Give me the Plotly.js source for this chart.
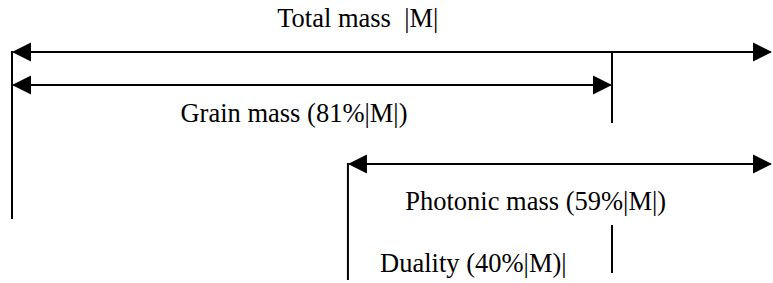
<!DOCTYPE html>
<html><head><meta charset="utf-8">
<script src="https://cdn.plot.ly/plotly-3.0.1.min.js"></script>
<style>html,body{margin:0;padding:0;background:#fff}#chart{width:773px;height:283px}</style>
</head><body><div id="chart"></div>
<script>
// Diagram scale along x: 0 = start of total mass, 100 = end of total mass (as drawn)
const arrowNames = ['Total mass', 'Grain mass', 'Photonic mass'];
const arrowStart = [0, 0, 44.2];
const arrowEnd = [100, 78.95, 100];
const arrowLevel = [52, 85, 164];

// vertical marker lines
const tickX = [0, 78.95, 44.2, 78.95];
const tickTop = [51, 51, 163, 225];
const tickBottom = [219, 123, 280, 273];

// labels
const labelText = ['Total mass\u00a0 |M|', 'Grain mass (81%|M|)', 'Photonic mass (59%|M|)', 'Duality (40%|M)|'];
const labelX = [45.5, 37.1, 68.9, 60.7];
const labelY = [20.4, 115.4, 203.4, 265.4];

const tx = [], ty = [];
for (let i = 0; i < tickX.length; i++) {
  tx.push(tickX[i], tickX[i], null);
  ty.push(tickTop[i], tickBottom[i], null);
}

const traces = [
  {x: tx, y: ty, mode: 'lines', line: {color: '#000', width: 2}, hoverinfo: 'skip'},
  {x: labelX, y: labelY, mode: 'text', text: labelText, textposition: 'middle center',
   textfont: {family: 'Liberation Serif, Times New Roman, serif', size: 26.5, color: '#000'}, hoverinfo: 'skip'}
];

const annotations = [];
arrowNames.forEach((n, i) => {
  [[arrowEnd[i], arrowStart[i]], [arrowStart[i], arrowEnd[i]]].forEach(([tip, tail]) => {
    annotations.push({
      x: tip, y: arrowLevel[i], ax: tail, ay: arrowLevel[i],
      xref: 'x', yref: 'y', axref: 'x', ayref: 'y', text: '',
      showarrow: true, arrowhead: 2, arrowsize: 1.9, arrowwidth: 2,
      arrowcolor: '#000', standoff: 0
    });
  });
});

const layout = {
  width: 773, height: 283,
  margin: {l: 0, r: 0, t: 0, b: 0},
  paper_bgcolor: '#fff', plot_bgcolor: '#fff',
  showlegend: false,
  xaxis: {range: [-1.58, 100.13], visible: false, fixedrange: true},
  yaxis: {range: [283, 0], visible: false, fixedrange: true},
  annotations: annotations
};

Plotly.newPlot('chart', traces, layout, {staticPlot: true, displayModeBar: false});
</script>
</body></html>
